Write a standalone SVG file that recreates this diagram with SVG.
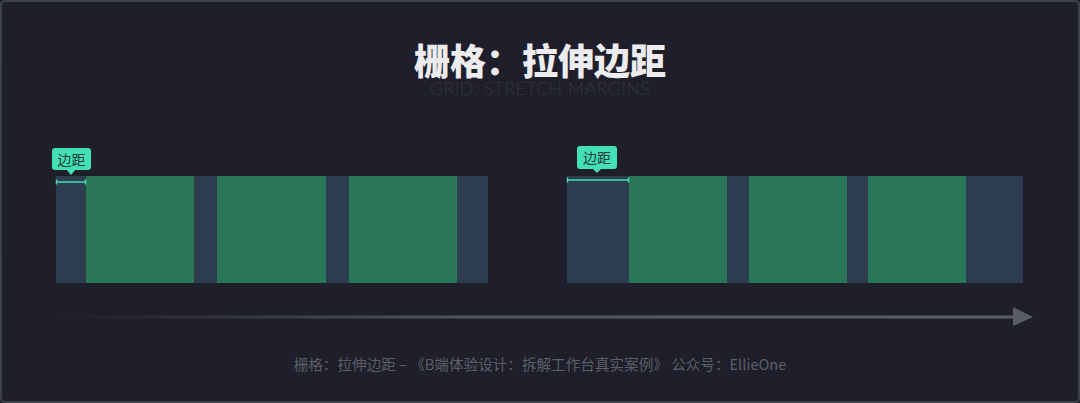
<svg xmlns="http://www.w3.org/2000/svg" width="1080" height="403" viewBox="0 0 1080 403">
  <defs>
    <linearGradient id="arrowGrad" x1="60" y1="0" x2="1015" y2="0" gradientUnits="userSpaceOnUse">
      <stop offset="0" stop-color="#5a5d68" stop-opacity="0"/>
      <stop offset="0.45" stop-color="#5a5d68" stop-opacity="0.9"/>
      <stop offset="1" stop-color="#5a5d68"/>
    </linearGradient>
    <style>
      .bg { fill: #1e1f2a; }
      .frame { fill: none; stroke: #3e404b; stroke-width: 2; }
      .margin { fill: #2e3e50; }
      .col { fill: #2a7659; }
      .tag { fill: #43dfb6; }
      .tagtext { font-family: "Noto Sans CJK SC", sans-serif; font-size: 14px; fill: #1f3a35; text-anchor: middle; }
      .mline { stroke: #43dfb6; stroke-width: 1.5; }
      .title { font-family: "Noto Sans CJK SC", sans-serif; font-weight: 900; font-size: 36px; fill: #ececef; text-anchor: middle; }
      .subtitle { font-family: "Lato", "Liberation Sans", sans-serif; font-weight: 300; font-size: 18px; fill: #33353f; text-anchor: middle; letter-spacing: 0.3px; }
      .footer { font-family: "Noto Sans CJK SC", sans-serif; font-size: 14.6px; fill: #5c5e69; text-anchor: middle; }
    </style>
  </defs>
  <rect class="bg" x="0" y="0" width="1080" height="403"/>
  <rect class="frame" x="1" y="1" width="1078" height="401" rx="4"/>

  <text class="subtitle" x="540" y="95">GRID: STRETCH MARGINS</text>
  <text class="title" x="540" y="75">栅格：拉伸边距</text>

  <g id="grid-left">
    <rect class="margin" x="56" y="176" width="432" height="107"/>
    <rect class="col" x="86" y="176" width="108" height="107"/>
    <rect class="col" x="217" y="176" width="109" height="107"/>
    <rect class="col" x="349" y="176" width="108" height="107"/>
  </g>
  <g id="tag-left">
    <rect class="tag" x="52" y="148" width="39" height="22" rx="3"/>
    <polygon class="tag" points="66,169 76,169 71,175"/>
    <text class="tagtext" x="71.5" y="164.5">边距</text>
    <line class="mline" x1="56.5" y1="182" x2="85.5" y2="182"/>
    <line class="mline" x1="56.5" y1="179.5" x2="56.5" y2="184.5"/>
    <line class="mline" x1="85.5" y1="179.5" x2="85.5" y2="184.5"/>
  </g>

  <g id="grid-right">
    <rect class="margin" x="567" y="176" width="456" height="107"/>
    <rect class="col" x="629" y="176" width="98" height="107"/>
    <rect class="col" x="749" y="176" width="98" height="107"/>
    <rect class="col" x="868" y="176" width="98" height="107"/>
  </g>
  <g id="tag-right">
    <rect class="tag" x="577" y="146" width="40" height="23" rx="3"/>
    <polygon class="tag" points="592,168 602,168 597,173"/>
    <text class="tagtext" x="597" y="162.5">边距</text>
    <line class="mline" x1="567.5" y1="180" x2="628.5" y2="180"/>
    <line class="mline" x1="567.5" y1="177.5" x2="567.5" y2="182.5"/>
    <line class="mline" x1="628.5" y1="177.5" x2="628.5" y2="182.5"/>
  </g>

  <g id="connectors">
    <rect x="60" y="315.5" width="955" height="3" fill="url(#arrowGrad)"/>
    <polygon points="1013,307 1033,317 1013,326" fill="#5a5d68"/>
  </g>

  <text class="footer" x="540" y="370">栅格：拉伸边距 – 《B端体验设计：拆解工作台真实案例》 公众号：EllieOne</text>
</svg>
